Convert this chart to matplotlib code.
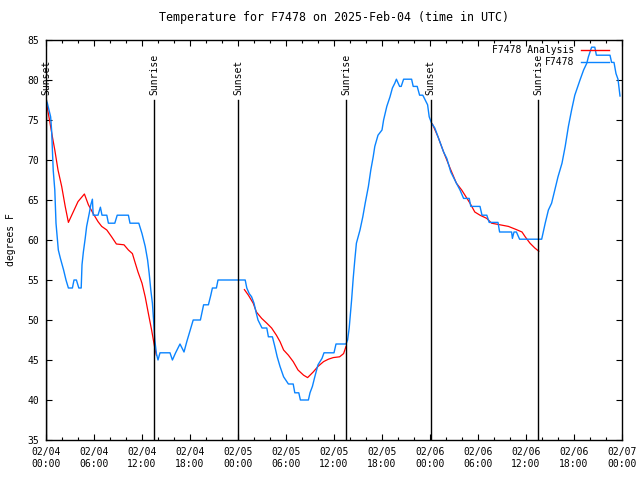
import numpy as np
import matplotlib
matplotlib.use('Agg')
import matplotlib.pyplot as plt

plt.rcParams['font.family'] = 'DejaVu Sans Mono'
plt.rcParams['font.size'] = 7

# Observed temperature (hours since 02/04 00:00 UTC, degrees F)
obs_hours = [0.0, 0.17, 0.58, 0.7, 0.9, 1.1, 1.25, 1.54, 1.8, 2.2, 2.5, 2.8, 3.3, 3.5, 3.8,
             4.1, 4.4, 4.5, 4.67, 4.9, 5.08, 5.4, 5.6, 5.8, 5.9, 6.5, 6.8, 7.0, 7.6, 7.8,
             8.6, 8.9, 10.3, 10.5, 11.6, 12.0, 12.4, 12.7, 12.9, 13.1, 13.3, 13.5, 13.6,
             13.8, 14.0, 14.25, 15.5, 15.8, 16.2, 16.75, 17.25, 17.6, 17.9, 18.1, 18.4,
             19.3, 19.7, 20.3, 20.6, 20.8, 21.3, 21.5, 24.9, 25.1, 25.4, 25.7, 26.0, 26.25,
             26.5, 27.0, 27.6, 27.8, 28.3, 28.6, 28.9, 29.25, 29.7, 30.3, 30.9, 31.1, 31.6,
             31.8, 32.8, 33.0, 33.3, 33.6, 34.0, 34.5, 34.75, 36.0, 36.25, 37.5, 37.7, 37.9,
             38.2, 38.4, 38.6, 38.8, 39.25, 39.6, 39.9, 40.3, 40.6, 40.9, 41.1, 41.5, 42.0,
             42.2, 42.6, 43.0, 43.3, 43.6, 43.8, 44.2, 44.4, 44.7, 45.7, 45.9, 46.4, 46.7,
             47.1, 47.4, 47.7, 47.9, 48.2, 48.6, 49.0, 49.7, 50.1, 50.6, 50.9, 51.3, 51.75,
             52.2, 52.9, 53.1, 54.25, 54.5, 55.1, 55.4, 56.5, 56.7, 57.6, 58.2, 58.3, 58.5,
             58.8, 59.2, 61.96, 62.4, 62.8, 63.2, 63.6, 64.0, 64.5, 64.9, 65.3, 65.7, 66.1,
             66.75, 67.2, 67.6, 67.8, 68.2, 68.6, 68.8, 70.5, 70.7, 71.0, 71.25, 71.5, 71.75]
obs_temp = [77.5, 77.1, 75.4, 73.75, 68.75, 66.25, 62.1, 58.75, 57.7, 56.25, 55.0, 54.0, 54.0,
            55.0, 55.0, 54.0, 54.0, 56.9, 58.5, 60.2, 61.7, 63.3, 64.4, 65.1, 63.1, 63.1,
            64.1, 63.1, 63.1, 62.1, 62.1, 63.1, 63.1, 62.1, 62.1, 60.8, 59.2, 57.5, 55.8,
            53.75, 52.1, 49.2, 47.5, 45.8, 45.0, 45.9, 45.9, 45.0, 45.9, 47.0, 46.0, 47.3,
            48.3, 49.0, 50.0, 50.0, 51.9, 51.9, 53.1, 54.0, 54.0, 55.0, 55.0, 54.0, 53.3,
            52.9, 52.1, 51.0, 50.0, 49.0, 49.0, 47.9, 47.9, 46.7, 45.4, 44.2, 42.9, 42.0,
            42.0, 40.9, 40.9, 40.0, 40.0, 40.9, 41.7, 42.9, 44.4, 45.2, 45.9, 45.9, 47.0,
            47.0, 47.5, 49.0, 52.5, 55.2, 57.5, 59.6, 61.25, 62.9, 64.6, 66.7, 68.75, 70.4,
            71.7, 73.1, 73.75, 75.0, 76.7, 77.9, 79.0, 79.6, 80.1, 79.2, 79.2, 80.1, 80.1,
            79.2, 79.2, 78.1, 78.1, 77.5, 76.9, 75.4, 74.6, 74.0, 72.9, 71.0, 70.2, 68.5,
            67.9, 67.1, 66.25, 65.2, 65.2, 64.2, 64.2, 63.1, 63.1, 62.2, 62.2, 61.0, 61.0,
            61.0, 60.2, 61.0, 61.0, 60.1, 60.1, 62.1, 63.75, 64.6, 66.25, 67.9, 69.6, 71.7,
            74.2, 76.25, 78.1, 80.0, 81.25, 82.1, 82.9, 84.1, 84.1, 83.1, 83.1, 82.2, 82.2,
            80.8, 80.1, 78.0]

# Analysis temperature (NaN breaks the daytime gaps)
ana_hours = [0.0, 0.8, 1.1, 1.5, 1.96, 2.4, 2.8, 3.4, 4.0, 4.8, 5.3, 5.9, 6.5, 6.96, 7.6, 8.2,
             8.8, 9.75, 10.3, 10.8, 11.1, 11.5, 12.0, 12.4, 12.8, 13.2, 13.6, 13.8, np.nan,
             24.8, 25.3, 25.9, 26.3, 26.96, 27.6, 28.2, 28.8, 29.25, 29.7, 30.3, 30.9, 31.5,
             32.2, 32.7, 33.4, 34.0, 34.7, 35.3, 35.9, 36.7, 37.2, 37.5, np.nan,
             48.3, 49.0, 49.7, 50.5, 51.3, 51.96, 53.0, 53.6, 54.25, 55.1, 55.7, 56.75, 57.8,
             58.8, 59.5, 59.9, 60.5, 61.1, 61.6]
ana_temp = [77.5, 72.9, 71.25, 68.75, 66.7, 64.2, 62.2, 63.5, 64.8, 65.75, 64.4, 63.3, 62.3,
            61.7, 61.25, 60.4, 59.5, 59.4, 58.75, 58.3, 57.3, 56.0, 54.6, 52.9, 50.8, 48.75,
            46.5, 45.6, np.nan,
            53.8, 53.1, 52.1, 51.0, 50.2, 49.6, 49.0, 48.1, 47.3, 46.25, 45.6, 44.8, 43.75,
            43.1, 42.8, 43.5, 44.2, 44.8, 45.1, 45.3, 45.4, 45.8, 46.7, np.nan,
            74.5, 72.9, 71.0, 69.0, 67.1, 66.25, 64.6, 63.5, 63.1, 62.7, 62.1, 61.9, 61.7,
            61.3, 61.0, 60.4, 59.6, 59.0, 58.6]

sun_hours = [0.05, 13.5, 24.0, 37.5, 48.1, 61.5]
sun_labels = ['Sunset', 'Sunrise', 'Sunset', 'Sunrise', 'Sunset', 'Sunrise']

xtick_hours = list(range(0, 73, 6))
xtick_labels = ['02/04\n00:00', '02/04\n06:00', '02/04\n12:00', '02/04\n18:00',
                '02/05\n00:00', '02/05\n06:00', '02/05\n12:00', '02/05\n18:00',
                '02/06\n00:00', '02/06\n06:00', '02/06\n12:00', '02/06\n18:00',
                '02/07\n00:00']

red = '#ff0000'
blue = '#0a84ff'

fig = plt.figure(figsize=(6.4, 4.8), dpi=100)
ax = fig.add_axes([46 / 640, 40 / 480, 576 / 640, 400 / 480])

ax.plot(ana_hours, ana_temp, color=red, lw=0.9)
ax.plot(obs_hours, obs_temp, color=blue, lw=1.0)

for h, lab in zip(sun_hours, sun_labels):
    ax.axvline(h, ymin=0, ymax=0.85, color='black', lw=1.0)
    ax.text(h, 0.8625, lab, rotation=90, ha='center', va='bottom',
            transform=ax.get_xaxis_transform())

ax.set_xlim(0, 72)
ax.set_ylim(35, 85)
ax.set_xticks(xtick_hours)
ax.set_xticklabels(xtick_labels)
ax.set_xticks(range(0, 73, 2), minor=True)
ax.set_yticks(range(35, 86, 5))
ax.tick_params(which='both', direction='in', top=True, right=True, width=0.8, colors='black')
ax.tick_params(which='major', length=4.5)
ax.tick_params(which='minor', length=2.5)
ax.tick_params(axis='x', pad=5)
ax.tick_params(axis='y', pad=5)
for s in ax.spines.values():
    s.set_linewidth(1.0)

ax.set_title('Temperature for F7478 on 2025-Feb-04 (time in UTC)', pad=14)
ax.set_ylabel('degrees F', labelpad=8)

# key, top right
ax.text(0.9167, 0.975, 'F7478 Analysis', ha='right', va='center', transform=ax.transAxes)
ax.plot([0.9288, 0.9774], [0.975, 0.975], color=red, lw=1.0, transform=ax.transAxes)
ax.text(0.9167, 0.945, 'F7478', ha='right', va='center', transform=ax.transAxes)
ax.plot([0.9288, 0.9774], [0.945, 0.945], color=blue, lw=1.0, transform=ax.transAxes)

fig.savefig('out.png', dpi=100)
